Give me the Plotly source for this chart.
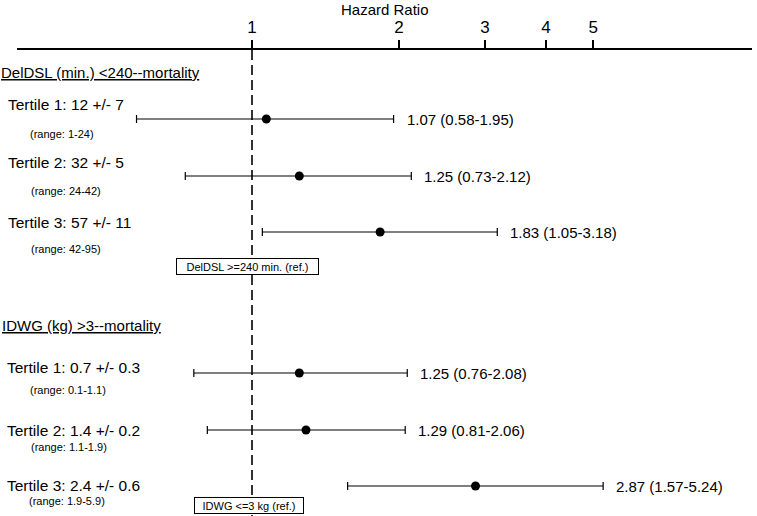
import numpy as np
import plotly.graph_objects as go

# ---------------- data ----------------
groups = ["DelDSL (min.) <240--mortality", "IDWG (kg) >3--mortality"]
ref_labels = ["DelDSL >=240 min. (ref.)", "IDWG <=3 kg (ref.)"]

del_labels = ["Tertile 1: 12 +/- 7", "Tertile 2: 32 +/- 5", "Tertile 3: 57 +/- 11"]
del_ranges = ["(range: 1-24)", "(range: 24-42)", "(range: 42-95)"]
del_hr = [1.07, 1.25, 1.83]
del_lo = [0.58, 0.73, 1.05]
del_hi = [1.95, 2.12, 3.18]

idwg_labels = ["Tertile 1: 0.7 +/- 0.3", "Tertile 2: 1.4 +/- 0.2", "Tertile 3: 2.4 +/- 0.6"]
idwg_ranges = ["(range: 0.1-1.1)", "(range: 1.1-1.9)", "(range: 1.9-5.9)"]
idwg_hr = [1.25, 1.29, 2.87]
idwg_lo = [0.76, 0.81, 1.57]
idwg_hi = [2.08, 2.06, 5.24]

ref_value = 1.0
tick_vals = [1, 2, 3, 4, 5]
tick_text = ["1", "2", "3", "4", "5"]

# ---------------- layout positions (vertical, px from top) ----------------
W, H = 757, 516
TOP, LEFT, RIGHT = 50, 17, 5
row_y = [[119, 176, 232], [373, 430, 486]]
label_y = [[104.5, 162, 222], [367, 430, 485]]
range_y = [[134, 190.5, 248.5], [389.5, 447, 501]]
header_y = [72, 325]
ref_y = [266.5, 505]
ref_w = [143, 110]
ref_shift = [-4.5, -3.5]
label_x = [[8, 8, 8], [7, 7, 7]]
range_x = [[30, 31, 31], [30, 31, 29]]
header_x = [1, 2]

FONT = "Liberation Sans, Arial, sans-serif"

# x pixel = 252 + 212*ln(HR)
px0, k = 252.0, 212.0
xlo = (LEFT - px0) / (k * np.log(10))
xhi = ((W - RIGHT) - px0) / (k * np.log(10))

fig = go.Figure()

# reference (HR = 1) dashed line
fig.add_trace(go.Scatter(
    x=[ref_value, ref_value], y=[TOP, H], mode="lines",
    line=dict(color="black", width=1.6, dash="10px,5px"),
    showlegend=False, hoverinfo="skip", cliponaxis=False))

series = [(del_hr, del_lo, del_hi), (idwg_hr, idwg_lo, idwg_hi)]
for g, (hr, lo, hi) in enumerate(series):
    hr_a, lo_a, hi_a = np.array(hr), np.array(lo), np.array(hi)
    fig.add_trace(go.Scatter(
        x=hr_a, y=row_y[g], mode="markers",
        marker=dict(color="black", size=9, symbol="circle"),
        error_x=dict(type="data", symmetric=False,
                     array=hi_a - hr_a, arrayminus=hr_a - lo_a,
                     color="black", thickness=1.2, width=4),
        showlegend=False, hoverinfo="skip"))

annotations = []

def txt(text, x, y, size, xref="paper", xanchor="left", xshift=0, font_extra=None):
    f = dict(family=FONT, size=size, color="black")
    if font_extra:
        f.update(font_extra)
    annotations.append(dict(text=text, x=x, y=y, xref=xref, yref="y",
                            xanchor=xanchor, yanchor="middle", xshift=xshift,
                            showarrow=False, font=f))

all_labels = [del_labels, idwg_labels]
all_ranges = [del_ranges, idwg_ranges]
for g in range(2):
    txt(groups[g], 0, header_y[g], 15, xshift=header_x[g] - LEFT - 2,
        font_extra=dict(lineposition="under"))
    hr, lo, hi = series[g]
    for i in range(3):
        txt(all_labels[g][i], 0, label_y[g][i], 15.5, xshift=label_x[g][i] - LEFT - 2)
        txt(all_ranges[g][i], 0, range_y[g][i], 11, xshift=range_x[g][i] - LEFT - 2)
        txt(f"{hr[i]:.2f} ({lo[i]:.2f}-{hi[i]:.2f})", np.log10(hi[i]), row_y[g][i], 15,
            xref="x", xshift=11)
    annotations.append(dict(text=ref_labels[g], x=np.log10(ref_value), y=ref_y[g],
                            xref="x", yref="y",
                            xanchor="center", yanchor="middle", xshift=ref_shift[g],
                            showarrow=False, bgcolor="white", bordercolor="black",
                            borderwidth=1, borderpad=1, width=ref_w[g] - 4, height=13,
                            font=dict(family=FONT, size=11, color="black")))

annotations.append(dict(text="Hazard Ratio", x=0.5, y=1, xref="paper", yref="paper",
                        xanchor="center", yanchor="middle", yshift=TOP - 9,
                        showarrow=False, font=dict(family=FONT, size=15, color="black")))

fig.update_layout(
    width=W, height=H,
    margin=dict(l=LEFT, r=RIGHT, t=TOP, b=0, pad=0),
    paper_bgcolor="white", plot_bgcolor="white",
    annotations=annotations,
    xaxis=dict(type="log", side="top", range=[xlo, xhi],
               tickvals=tick_vals, ticktext=tick_text,
               ticks="outside", ticklen=8, tickwidth=1.5, tickcolor="black",
               showline=True, linecolor="black", linewidth=1.5,
               showgrid=False, zeroline=False,
               tickfont=dict(family=FONT, size=17, color="black")),
    yaxis=dict(range=[H, TOP], visible=False, showgrid=False, zeroline=False),
)

fig.write_html("out.html", config={"displayModeBar": False},
               post_script="document.body.style.margin='0';")
